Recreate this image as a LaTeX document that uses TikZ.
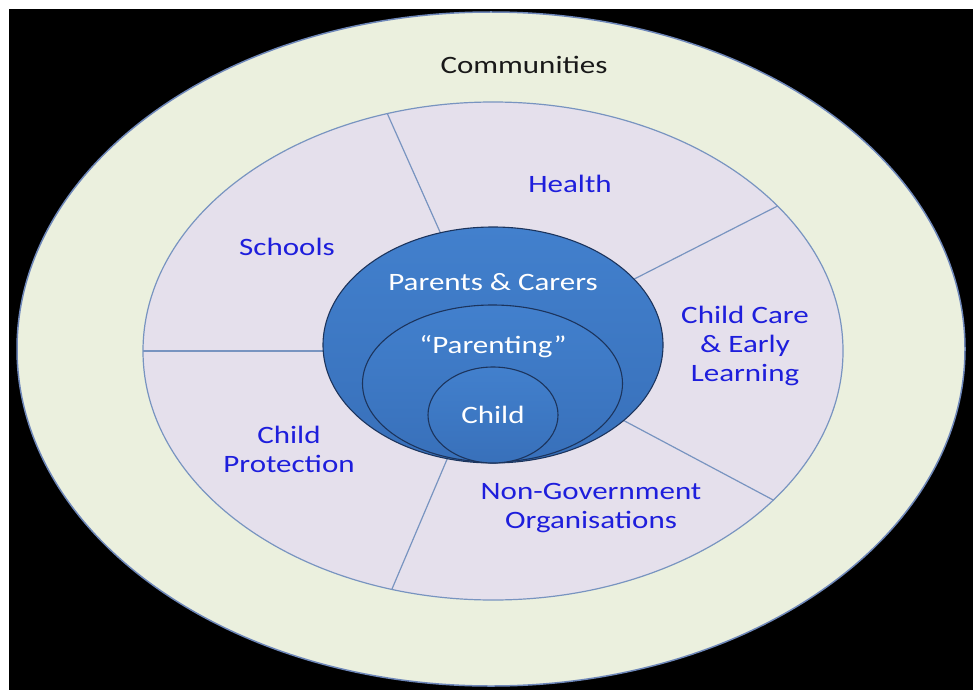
\documentclass[tikz,border=0pt]{standalone}
\usepackage{fontspec}
\setmainfont{Carlito}[FakeStretch=1.24]
\usetikzlibrary{shapes.geometric}
\definecolor{cream}{RGB}{235,240,222}
\definecolor{creamedge}{RGB}{110,135,185}
\definecolor{lav}{RGB}{229,224,236}
\definecolor{ringline}{RGB}{120,148,192}
\definecolor{bluefill}{RGB}{56,112,186}
\definecolor{bluetop}{RGB}{66,128,205}
\definecolor{blueline}{RGB}{28,52,92}
\definecolor{labelblue}{RGB}{30,30,220}
\definecolor{darktext}{RGB}{25,25,25}
\begin{document}
\begin{tikzpicture}[x=1pt,y=-1pt,
  oval/.style={ellipse, inner sep=0pt, outer sep=0pt},
  blueoval/.style={oval, top color=bluetop, bottom color=bluefill, draw=blueline, line width=1.1pt},
  lbl/.style={text=labelblue, font=\fontsize{25}{29}\selectfont, align=center, inner sep=0pt},
  wlbl/.style={text=white, font=\fontsize{25}{29}\selectfont, align=center, inner sep=0pt},
  divider/.style={draw=ringline, line width=1.2pt}]
\useasboundingbox (0,0) rectangle (973,690);
\fill[white] (0,0) rectangle (973,690);
\fill[black] (9,9) rectangle (973,690);
\node[oval, fill=cream, draw=creamedge, line width=1.5pt, minimum width=948pt, minimum height=674pt] (comm) at (491,349) {};
\node[oval, fill=lav, draw=ringline, line width=1.2pt, minimum width=700pt, minimum height=498pt] (ring) at (493,351) {};
\foreach \ang in {114,27,180,-28,-113.4}
  \draw[divider] (ring.center) -- (ring.\ang);
\node[blueoval, minimum width=340pt, minimum height=236pt] (parents) at (493,345) {};
\node[blueoval, minimum width=260pt, minimum height=157pt] (parenting) at (492.5,383.5) {};
\node[blueoval, minimum width=130pt, minimum height=96pt] (child) at (493,415) {};
\node[text=darktext, font=\fontsize{25}{29}\selectfont, inner sep=0pt] (tcomm) at (524,65) {Communities};
\node[lbl] (thealth) at (570,184) {Health};
\node[lbl] (tschools) at (287,247) {Schools};
\node[lbl] (tcare) at (745,346) {Child Care\\\& Early\\Learning};
\node[lbl] (tprot) at (289,449) {Child\\Protection};
\node[lbl] (tngo) at (591,508) {Non-Government\\Organisations};
\node[wlbl] (tparents) at (493,282) {Parents \& Carers};
\node[wlbl] (tparenting) at (493,347) {“Parenting”};
\node[wlbl] (tchild) at (493,415) {Child};
\end{tikzpicture}
\end{document}
